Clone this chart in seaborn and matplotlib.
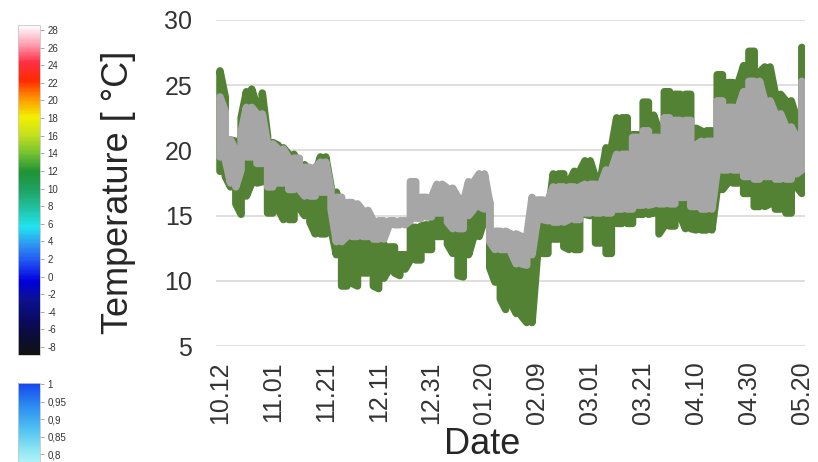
import numpy as np
import pandas as pd
import matplotlib
matplotlib.use("Agg")
import matplotlib.pyplot as plt
from matplotlib.colors import LinearSegmentedColormap, Normalize
from matplotlib.colorbar import ColorbarBase
import seaborn as sns

# ---- data -----------------------------------------------------------------
# daily sampling every second day, counted from 12 October
days = list(range(0, 221, 2))

green_hi = [26.1, 24.1, 20.8, 20.7, 22.5, 24.5, 24.7, 23.4, 24.4, 21.1,
            20.6, 20.4, 20.2, 19.7, 19.7, 18.9, 18.9, 18.4, 18.2, 19.5,
            19.5, 17.2, 16.8, 15.5, 15.3, 14.5, 14.0, 13.5, 13.3, 13.0,
            12.8, 12.8, 12.6, 12.6, 12.0, 12.0, 14.1, 14.1, 14.2, 14.3,
            14.3, 15.9, 15.9, 15.9, 15.6, 15.0, 14.5, 16.0, 16.0, 16.9,
            16.9, 16.0, 13.5, 12.0, 12.0, 11.8, 11.2, 11.2, 11.0, 12.5,
            14.5, 14.5, 15.0, 18.2, 18.2, 18.2, 17.6, 18.4, 18.4, 19.2,
            19.2, 17.9, 17.9, 20.2, 20.2, 22.5, 22.5, 22.5, 21.2, 21.2,
            23.7, 23.7, 22.7, 21.5, 24.5, 24.5, 24.3, 24.3, 24.3, 24.3,
            21.7, 21.5, 21.5, 21.5, 25.8, 25.8, 25.2, 25.2, 25.2, 26.5,
            27.6, 27.6, 26.0, 26.4, 26.4, 24.3, 24.3, 23.8, 23.8, 22.5,
            27.9]
green_lo = [18.4, 18.0, 17.2, 15.9, 15.1, 16.5, 17.5, 17.5, 17.6, 15.2,
            15.2, 15.5, 14.7, 14.7, 14.7, 15.6, 15.0, 14.5, 13.6, 13.6,
            13.6, 14.0, 12.0, 9.6, 9.6, 9.8, 9.6, 10.6, 10.6, 9.6,
            9.4, 10.2, 10.9, 10.6, 10.4, 10.9, 11.6, 11.6, 11.6, 12.4,
            12.4, 13.4, 13.4, 12.8, 12.1, 10.4, 10.3, 12.0, 13.4, 13.4,
            14.7, 11.0, 9.9, 8.6, 7.8, 8.3, 7.5, 7.3, 6.8, 6.8,
            11.9, 12.1, 12.1, 13.2, 13.2, 12.6, 12.4, 12.4, 12.4, 15.1,
            15.0, 12.9, 12.9, 12.1, 12.1, 14.4, 14.4, 14.4, 14.4, 15.1,
            15.1, 15.1, 15.2, 13.6, 14.2, 14.2, 14.2, 15.0, 14.0, 14.0,
            13.9, 13.9, 13.9, 13.9, 17.0, 17.0, 17.5, 17.5, 17.5, 16.7,
            16.7, 15.7, 15.7, 15.7, 15.9, 15.5, 15.5, 15.2, 15.2, 17.2,
            16.7]
gray_hi = [24.1, 23.0, 20.8, 20.0, 21.4, 23.3, 23.3, 22.8, 22.8, 20.5,
           20.5, 20.1, 20.1, 19.4, 19.4, 19.4, 18.7, 18.7, 18.7, 19.1,
           19.1, 17.0, 16.4, 16.4, 16.0, 16.0, 15.9, 15.4, 15.4, 14.6,
           14.6, 14.6, 14.6, 14.6, 14.6, 14.6, 17.6, 17.6, 16.4, 16.4,
           16.4, 17.4, 17.4, 17.1, 17.1, 16.4, 16.0, 17.6, 17.6, 18.2,
           18.2, 16.0, 13.8, 13.8, 13.8, 13.6, 13.6, 13.4, 13.4, 16.4,
           16.2, 16.2, 16.2, 17.2, 17.2, 17.2, 17.2, 17.2, 17.2, 17.4,
           17.4, 17.4, 17.4, 18.5, 18.5, 19.7, 19.7, 19.7, 21.0, 21.0,
           21.5, 21.5, 21.0, 21.0, 22.5, 22.5, 22.3, 22.3, 22.3, 22.3,
           20.4, 20.7, 20.7, 20.7, 23.8, 23.8, 23.3, 23.3, 23.3, 24.5,
           25.3, 25.3, 25.3, 23.8, 23.8, 22.8, 22.8, 21.8, 21.8, 21.0,
           25.3]
gray_lo = [19.5, 19.3, 17.5, 17.2, 18.5, 19.5, 19.5, 19.0, 19.0, 17.2,
           17.2, 17.5, 17.5, 17.0, 17.0, 17.0, 16.5, 16.5, 16.5, 16.8,
           16.8, 15.5, 13.0, 13.0, 13.4, 13.4, 13.4, 13.4, 13.4, 13.2,
           13.2, 13.2, 14.3, 14.3, 14.3, 14.3, 14.6, 14.8, 14.8, 14.9,
           14.9, 15.2, 15.2, 14.5, 14.0, 14.0, 14.0, 15.0, 15.5, 15.7,
           15.5, 13.0, 12.4, 12.4, 12.4, 12.2, 11.3, 11.3, 11.2, 12.0,
           14.7, 14.7, 14.6, 14.5, 14.5, 14.5, 14.7, 14.7, 14.7, 15.2,
           15.2, 15.2, 15.2, 15.2, 15.2, 15.5, 15.5, 15.5, 15.5, 15.8,
           15.8, 15.8, 15.9, 15.9, 15.9, 15.9, 15.9, 16.4, 16.4, 15.7,
           15.7, 15.5, 15.5, 15.5, 18.5, 18.5, 18.5, 18.5, 18.5, 18.0,
           18.0, 17.8, 17.8, 18.0, 18.0, 17.8, 17.8, 17.8, 17.8, 18.2,
           18.5]

date_labels = ["10.12", "11.01", "11.21", "12.11", "12.31", "01.20",
               "02.09", "03.01", "03.21", "04.10", "04.30", "05.20"]
label_step_days = 20
temp_ticks = [5, 10, 15, 20, 25, 30]

scale_ticks = [28, 26, 24, 22, 20, 18, 16, 14, 12, 10, 8, 6, 4, 2, 0,
               -2, -4, -6, -8]
scale_colors = ["#111111", "#0c0c3a", "#0a0a66", "#0d1190", "#0000dd",
                "#1f4cf2", "#2e95f2", "#22e4f0", "#20c2a2", "#1fa363",
                "#1f9235", "#73c231", "#c3e01f", "#f2f000", "#ff9600",
                "#ff2a00", "#ff2f45", "#ffa2b4", "#ffffff"]
ratio_ticks = [1.0, 0.95, 0.9, 0.85, 0.8]
ratio_labels = ["1", "0,95", "0,9", "0,85", "0,8"]
ratio_colors = ["#d9fbfc", "#93e9f3", "#4fc1f1", "#2c8cf0", "#1546f0"]


# ---- build a min/max "snake" path so the daily swing fills a band ---------
def snake(d, lo, hi, name):
    xs, ys = [], []
    for i, (x, a, b) in enumerate(zip(d, lo, hi)):
        pair = (a, b) if i % 2 == 0 else (b, a)
        xs += [x, x]
        ys += list(pair)
    return pd.DataFrame({"day": xs, "temp": ys, "series": name})


df = pd.concat([snake(days, green_lo, green_hi, "air"),
                snake(days, gray_lo, gray_hi, "water")], ignore_index=True)

# ---- figure ------------------------------------------------------------------
sns.set_theme(style="white")
plt.rcParams["font.family"] = ["Liberation Sans", "DejaVu Sans"]

W, H = 818, 462
fig = plt.figure(figsize=(W / 100, H / 100), dpi=100)


def px_axes(x0, y0, x1, y1):
    return fig.add_axes([x0 / W, 1 - y1 / H, (x1 - x0) / W, (y1 - y0) / H])


ax = px_axes(216, 20, 805, 346)
sns.lineplot(data=df, x="day", y="temp", hue="series", sort=False,
             estimator=None, palette={"air": "#548235", "water": "#a6a6a6"},
             hue_order=["air", "water"], linewidth=5.4, legend=False,
             solid_joinstyle="round", solid_capstyle="round", ax=ax)

ax.set_xlim(-1.5, 221.2)
ax.set_ylim(5, 30)
ax.set_yticks(temp_ticks)
ax.set_xticks(np.arange(len(date_labels)) * label_step_days)
ax.set_xticklabels(date_labels, rotation=90)
ax.grid(axis="y", color="#d9d9d9", linewidth=1.2)
ax.grid(axis="x", visible=False)
ax.set_axisbelow(True)
for s in ax.spines.values():
    s.set_visible(False)
ax.tick_params(axis="y", length=0, pad=17, labelsize=18, labelcolor="#333333")
ax.tick_params(axis="x", length=0, pad=11, labelsize=18, labelcolor="#333333")
ax.set_ylabel("Temperature [ °C]", fontsize=26, color="#262626")
ax.yaxis.set_label_coords(-0.135, 0.472)
ax.set_xlabel("Date", fontsize=26, color="#262626")
ax.xaxis.set_label_coords(0.452, -0.25)

# ---- colour scales on the left ---------------------------------------------
cmap_t = LinearSegmentedColormap.from_list(
    "temp", list(zip(np.linspace(0, 1, len(scale_colors)), scale_colors)))
cax1 = px_axes(18, 25, 40, 355)
cb1 = ColorbarBase(cax1, cmap=cmap_t, norm=Normalize(-8.9, 28.57),
                   orientation="vertical")
cb1.set_ticks(scale_ticks)
cb1.set_ticklabels([str(t) for t in scale_ticks])

cmap_r = LinearSegmentedColormap.from_list("ratio", ratio_colors)
cax2 = px_axes(18, 383, 40, 475)
cb2 = ColorbarBase(cax2, cmap=cmap_r, norm=Normalize(0.74, 1.003),
                   orientation="vertical")
cb2.set_ticks(ratio_ticks)
cb2.set_ticklabels(ratio_labels)

for cb in (cb1, cb2):
    cb.outline.set_edgecolor("#c8c8c8")
    cb.outline.set_linewidth(0.6)
    cb.ax.tick_params(length=3, width=0.6, color="#999999", pad=2.5,
                      labelsize=7, labelcolor="#333333")

fig.savefig("out.png", dpi=100)
